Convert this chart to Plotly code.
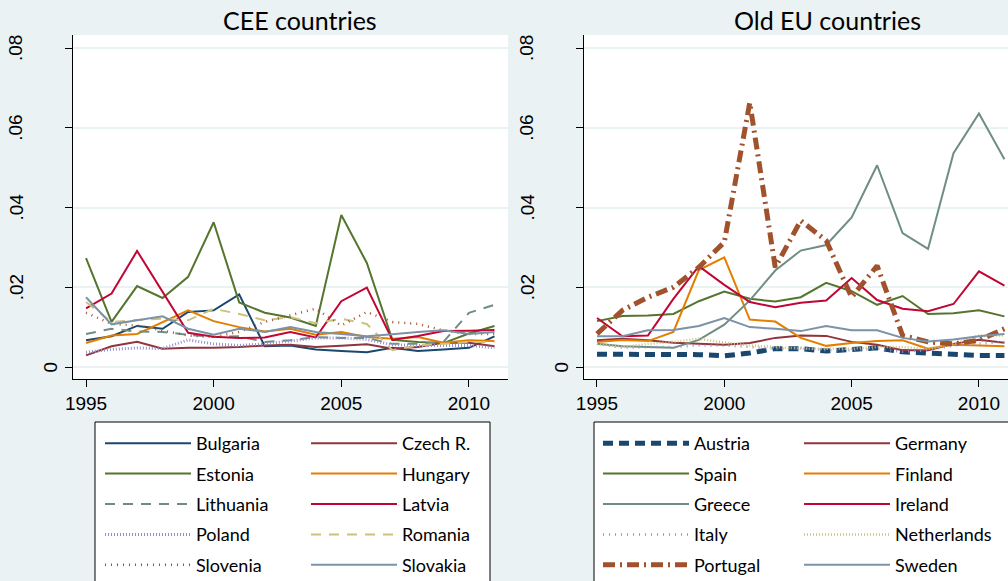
import plotly.graph_objects as go

years = list(range(1995, 2012))

# CEE countries
cee_names = ["Bulgaria", "Czech R.", "Estonia", "Hungary", "Lithuania",
             "Latvia", "Poland", "Romania", "Slovenia", "Slovakia"]
bulgaria = [0.0067, 0.0077, 0.0103, 0.0096, 0.0138, 0.0142, 0.0182, 0.0052, 0.0054,
            0.0044, 0.0040, 0.0037, 0.0048, 0.0040, 0.0044, 0.0048, 0.0077]
czech = [0.0029, 0.0052, 0.0063, 0.0046, 0.0048, 0.0048, 0.0050, 0.0054, 0.0056,
         0.0050, 0.0053, 0.0057, 0.0046, 0.0050, 0.0061, 0.0061, 0.0052]
estonia = [0.0273, 0.0113, 0.0203, 0.0173, 0.0226, 0.0363, 0.0162, 0.0136, 0.0124,
           0.0103, 0.0381, 0.0261, 0.0068, 0.0063, 0.0060, 0.0084, 0.0103]
hungary = [0.0060, 0.0079, 0.0083, 0.0113, 0.0142, 0.0115, 0.0100, 0.0089, 0.0096,
           0.0081, 0.0088, 0.0075, 0.0071, 0.0075, 0.0061, 0.0067, 0.0065]
lithuania = [0.0083, 0.0096, 0.0089, 0.0088, 0.0081, 0.0075, 0.0077, 0.0063, 0.0067,
             0.0075, 0.0073, 0.0073, 0.0058, 0.0058, 0.0063, 0.0136, 0.0156]
latvia = [0.0147, 0.0184, 0.0291, 0.0188, 0.0086, 0.0076, 0.0073, 0.0074, 0.0088,
          0.0074, 0.0165, 0.0199, 0.0068, 0.0078, 0.0090, 0.0091, 0.0093]
poland = [0.0037, 0.0044, 0.0048, 0.0046, 0.0068, 0.0058, 0.0054, 0.0058, 0.0065,
          0.0073, 0.0073, 0.0069, 0.0056, 0.0054, 0.0054, 0.0054, 0.0048]
romania = [0.0163, 0.0113, 0.0118, 0.0121, 0.0117, 0.0146, 0.0133, 0.0117, 0.0125,
           0.0110, 0.0121, 0.0108, 0.0042, 0.0054, 0.0058, 0.0063, 0.0063]
slovenia = [0.0136, 0.0108, 0.0104, 0.0092, 0.0079, 0.0075, 0.0088, 0.0113, 0.0129,
            0.0146, 0.0104, 0.0138, 0.0113, 0.0108, 0.0092, 0.0083, 0.0083]
slovakia = [0.0175, 0.0107, 0.0117, 0.0127, 0.0096, 0.0081, 0.0096, 0.0088, 0.0100,
            0.0088, 0.0083, 0.0077, 0.0082, 0.0088, 0.0092, 0.0083, 0.0088]
cee_values = [bulgaria, czech, estonia, hungary, lithuania, latvia, poland,
              romania, slovenia, slovakia]

# Old EU countries
old_names = ["Austria", "Germany", "Spain", "Finland", "Greece",
             "Ireland", "Italy", "Netherlands", "Portugal", "Sweden"]
austria = [0.0032, 0.0032, 0.0032, 0.0031, 0.0031, 0.0028, 0.0035, 0.0046, 0.0046,
           0.0040, 0.0043, 0.0048, 0.0038, 0.0035, 0.0029, 0.0029, 0.0029]
germany = [0.0067, 0.0071, 0.0067, 0.0061, 0.0058, 0.0056, 0.0060, 0.0073, 0.0079,
           0.0078, 0.0063, 0.0056, 0.0042, 0.0042, 0.0058, 0.0068, 0.0061]
spain = [0.0115, 0.0128, 0.0129, 0.0133, 0.0165, 0.0189, 0.0171, 0.0164, 0.0175,
         0.0211, 0.0190, 0.0156, 0.0178, 0.0133, 0.0135, 0.0142, 0.0127]
finland = [0.0063, 0.0068, 0.0065, 0.0088, 0.0243, 0.0275, 0.0119, 0.0114, 0.0073,
           0.0053, 0.0060, 0.0065, 0.0067, 0.0046, 0.0056, 0.0054, 0.0052]
greece = [0.0058, 0.0052, 0.0050, 0.0048, 0.0068, 0.0106, 0.0167, 0.0242, 0.0292,
          0.0306, 0.0375, 0.0506, 0.0336, 0.0296, 0.0536, 0.0636, 0.0521]
ireland = [0.0123, 0.0077, 0.0079, 0.0171, 0.0253, 0.0206, 0.0163, 0.0150, 0.0161,
           0.0167, 0.0223, 0.0168, 0.0146, 0.0140, 0.0158, 0.0240, 0.0204]
italy = [0.0058, 0.0048, 0.0050, 0.0050, 0.0054, 0.0054, 0.0050, 0.0046, 0.0048,
         0.0042, 0.0042, 0.0046, 0.0038, 0.0042, 0.0054, 0.0058, 0.0063]
netherlands = [0.0058, 0.0050, 0.0058, 0.0063, 0.0071, 0.0061, 0.0054, 0.0050, 0.0046,
               0.0046, 0.0046, 0.0050, 0.0050, 0.0046, 0.0058, 0.0079, 0.0079]
portugal = [0.0083, 0.0142, 0.0175, 0.0200, 0.0250, 0.0313, 0.0663, 0.0250, 0.0367,
            0.0317, 0.0175, 0.0254, 0.0079, 0.0063, 0.0058, 0.0067, 0.0096]
sweden = [0.0077, 0.0077, 0.0092, 0.0093, 0.0103, 0.0123, 0.0100, 0.0096, 0.0090,
          0.0103, 0.0092, 0.0092, 0.0073, 0.0064, 0.0069, 0.0077, 0.0083]
old_values = [austria, germany, spain, finland, greece, ireland, italy,
              netherlands, portugal, sweden]

x_ticks = [1995, 2000, 2005, 2010]
y_ticks = [0, 0.02, 0.04, 0.06, 0.08]
y_tick_text = ["0", ".02", ".04", ".06", ".08"]
panel_titles = ["CEE countries", "Old EU countries"]

# styles (Stata s2color palette)
palette = ["#1a476f", "#90353b", "#55752f", "#e37e00", "#6e8e84",
           "#c10534", "#938dd2", "#cac27e", "#a0522d", "#7b92a8"]
cee_styles = [
    dict(width=2, dash="solid"), dict(width=2, dash="solid"),
    dict(width=2, dash="solid"), dict(width=2, dash="solid"),
    dict(width=2, dash="10px,8px"), dict(width=2, dash="solid"),
    dict(width=3, dash="1px,2px"), dict(width=2, dash="10px,8px"),
    dict(width=2.5, dash="1px,5px"), dict(width=2, dash="solid"),
]
old_styles = [
    dict(width=5, dash="10px,6px"), dict(width=2, dash="solid"),
    dict(width=2, dash="solid"), dict(width=2, dash="solid"),
    dict(width=2, dash="solid"), dict(width=2, dash="solid"),
    dict(width=2.5, dash="1px,5px"), dict(width=2.5, dash="1px,2px"),
    dict(width=5, dash="12px,5px,2px,5px"), dict(width=2, dash="solid"),
]

BG = "#EAF2F3"
W, H = 1008, 581

fig = go.Figure()
for i, (name, vals, col, st) in enumerate(zip(cee_names, cee_values, palette, cee_styles)):
    fig.add_trace(go.Scatter(x=years, y=vals, mode="lines", name=name,
                             line=dict(color=col, **st), xaxis="x", yaxis="y",
                             legend="legend" if i % 2 == 0 else "legend2",
                             legendgroup=name))
for i, (name, vals, col, st) in enumerate(zip(old_names, old_values, palette, old_styles)):
    fig.add_trace(go.Scatter(x=years, y=vals, mode="lines", name=name,
                             line=dict(color=col, **st), xaxis="x2", yaxis="y2",
                             legend="legend3" if i % 2 == 0 else "legend4",
                             legendgroup=name))

tickfont = dict(family="Liberation Sans, Arial, sans-serif", size=19, color="black")
ydom = [1 - 379 / H, 1 - 35 / H]
common_x = dict(tickvals=x_ticks, ticks="outside", ticklen=7, tickcolor="black",
                showline=True, linecolor="black", linewidth=1, showgrid=False,
                zeroline=False, tickfont=tickfont)
common_y = dict(tickvals=y_ticks, ticks="outside", ticklen=7, tickcolor="black",
                showline=True, linecolor="black", linewidth=1, showgrid=True,
                gridcolor=BG, gridwidth=1.5, zeroline=False, showticklabels=False,
                range=[-0.00301, 0.08326])

legend_common = dict(orientation="v", bgcolor="rgba(0,0,0,0)", borderwidth=0,
                     font=dict(family="Lato, sans-serif", size=18, color="black"),
                     xanchor="left", yanchor="top", y=1 - 425 / H, itemwidth=86,
                     tracegroupgap=4, traceorder="grouped", xref="paper", yref="paper")

fig.update_layout(
    width=W, height=H,
    margin=dict(l=0, r=0, t=0, b=0, autoexpand=False),
    paper_bgcolor=BG, plot_bgcolor="white",
    xaxis=dict(domain=[73 / W, 508 / W], range=[1994.49, 2011.53], anchor="y", **common_x),
    yaxis=dict(domain=ydom, anchor="x", **common_y),
    xaxis2=dict(domain=[584 / W, 1.0], range=[1994.49, 2011.14], anchor="y2", **common_x),
    yaxis2=dict(domain=ydom, anchor="x2", **common_y),
    legend=dict(x=100 / W, **legend_common),
    legend2=dict(x=306 / W, **legend_common),
    legend3=dict(x=598 / W, **legend_common),
    legend4=dict(x=799 / W, **legend_common),
    showlegend=True,
    shapes=[
        dict(type="rect", xref="paper", yref="paper", x0=95 / W, x1=490 / W,
             y0=-0.05, y1=1 - 422 / H, fillcolor="white",
             line=dict(color="black", width=1), layer="below"),
        dict(type="rect", xref="paper", yref="paper", x0=594 / W, x1=1.05,
             y0=-0.05, y1=1 - 422 / H, fillcolor="white",
             line=dict(color="black", width=1), layer="below"),
    ],
)

annotations = []
for xref, yref, title, cx in [("x", "y", panel_titles[0], 300), ("x2", "y2", panel_titles[1], 827)]:
    annotations.append(dict(text=title, xref="paper", yref="paper", x=cx / W, y=1 - 20 / H,
                            xanchor="center", yanchor="middle", showarrow=False,
                            font=dict(family="Lato, sans-serif", size=25, color="black")))
    for v, t in zip(y_ticks, y_tick_text):
        shift = -23.5 if t == "0" else -57
        annotations.append(dict(text=t, xref=xref + " domain", yref=yref, x=0, y=v,
                                xshift=shift, xanchor="center", yanchor="middle",
                                textangle=-90, showarrow=False, font=tickfont))
fig.update_layout(annotations=annotations)

fig.write_html("out.html", config={"displayModeBar": False},
               post_script="document.body.style.margin='0';")
